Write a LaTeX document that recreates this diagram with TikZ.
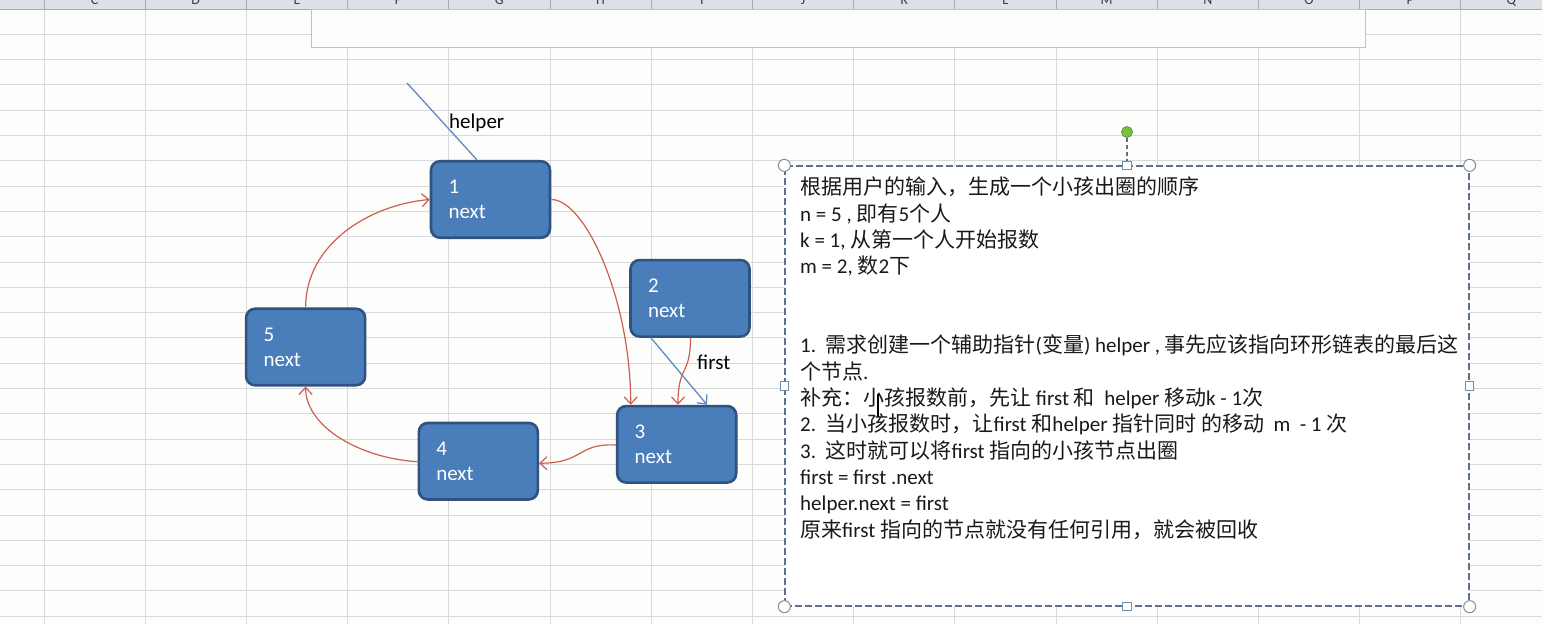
\documentclass[tikz,border=0pt]{standalone}
\usepackage{fontspec}
\setmainfont{Carlito}
\newfontfamily\cjk{Noto Sans CJK SC}
\usetikzlibrary{arrows.meta}

\definecolor{paper}{RGB}{253,253,251}
\definecolor{gridc}{RGB}{214,218,222}
\definecolor{headc}{RGB}{221,225,230}
\definecolor{headsep}{RGB}{165,172,180}
\definecolor{headtxt}{RGB}{60,60,60}
\definecolor{rectedge}{RGB}{190,194,198}
\definecolor{rectshadow}{RGB}{205,208,211}
\definecolor{nodefill}{RGB}{74,126,187}
\definecolor{nodeedge}{RGB}{47,82,128}
\definecolor{linkred}{RGB}{205,95,80}
\definecolor{ptrblue}{RGB}{95,138,196}
\definecolor{boxdash}{RGB}{95,112,140}
\definecolor{handlec}{RGB}{135,140,148}
\definecolor{handleb}{RGB}{110,140,180}
\definecolor{rotfill}{RGB}{122,190,66}
\definecolor{rotedge}{RGB}{95,150,50}
\definecolor{txtc}{RGB}{25,25,25}

\newcommand\zh[1]{{\cjk #1}}

\begin{document}
\begin{tikzpicture}[x=1pt,y=-1pt,
  gridline/.style={draw=gridc, line width=1pt},
  listnode/.style={rectangle, rounded corners=9pt, fill=nodefill, draw=nodeedge,
    line width=2.6pt, minimum width=119pt, minimum height=76.5pt, inner sep=0pt,
    text=white, align=left, text width=84pt, font=\fontsize{21}{25}\selectfont},
  link/.style={draw=linkred, line width=1.2pt, -{Straight Barb[length=7pt,width=13pt]}},
  ptr/.style={draw=ptrblue, line width=1.3pt},
  lbl/.style={inner sep=0pt, anchor=base west, font=\fontsize{21}{25}\selectfont, text=black},
  txt/.style={inner sep=0pt, anchor=base west, font=\fontsize{21}{26}\selectfont, text=txtc},
  hcirc/.style={circle, draw=handlec, fill=white, line width=1pt, minimum size=12pt, inner sep=0pt},
  hsq/.style={rectangle, draw=handleb, fill=white, line width=1pt, minimum size=8.5pt, inner sep=0pt},
]
\useasboundingbox (0,0) rectangle (1542,624);
\clip (0,0) rectangle (1542,624);
\fill[paper] (0,0) rectangle (1542,624);

% worksheet grid
\foreach \i in {0,...,14}
  \draw[gridline] ({44+101.2*\i},9) -- ({44+101.2*\i},624);
\foreach \j in {1,...,24}
  \draw[gridline] (0,{9+25.3*\j}) -- (1542,{9+25.3*\j});

% column header strip
\fill[headc] (0,0) rectangle (1542,9);
\draw[headsep, line width=1pt] (0,9) -- (1542,9);
\foreach \i in {0,...,14}
  \draw[headsep, line width=1pt] ({44+101.2*\i},0) -- ({44+101.2*\i},9);
\foreach \l [count=\k from 0] in {C,D,E,F,G,H,I,J,K,L,M,N,O,P,Q}
  \node[inner sep=0pt, anchor=base, text=headtxt, font=\fontsize{14}{14}\selectfont]
    (col\l) at ({94.6+101.2*\k},4.5) {\l};

% empty banner box at the top
\draw[rectshadow, line width=1.2pt] (312.5,47.8) -- (1365.8,47.8) -- (1365.8,10);
\node[rectangle, draw=rectedge, fill=paper, line width=1.2pt, anchor=north west,
  minimum width=1053.5pt, minimum height=37.5pt, inner sep=0pt] (banner) at (311,9) {};

% circular list nodes
\node[listnode] (n1) at (490.5,199.5) {1\\next};
\node[listnode] (n2) at (690,298.3) {2\\next};
\node[listnode] (n3) at (676.7,444.3) {3\\next};
\node[listnode] (n4) at (478.3,461.2) {4\\next};
\node[listnode] (n5) at (305.6,347) {5\\next};

% next links
\draw[link] (n5.north) .. controls +(0,-63) and +(-61,5.5) .. (n1.west);
\draw[link] (n1.east) .. controls +(34,0) and +(0,-105) .. ([xshift=-46pt]n3.north);
\draw[link] ([xshift=0.5pt]n2.south) .. controls +(0,38) and +(0,-40) .. ([xshift=1.3pt]n3.north);
\draw[link] ([yshift=-0.7pt]n3.west) .. controls +(-39,-2) and +(45,0) .. ([yshift=-2pt]n4.east);
\draw[link] ([yshift=-0.5pt]n4.west) .. controls +(-58,-3.5) and +(0,40) .. (n5.south);

% pointers
\coordinate (hp) at (407,83);
\draw[ptr] (hp) -- ([xshift=-13.5pt]n1.north);
\draw[ptr, -{Straight Barb[length=7pt,width=13pt]}] ([xshift=-39pt]n2.south) -- ([xshift=30.3pt]n3.north);
\node[lbl] (lhelper) at (449,128.3) {helper};
\node[lbl] (lfirst) at (697,369) {first};

% text box with selection handles
\node[rectangle, draw=boxdash, fill=white, line width=1.3pt, dash pattern=on 7pt off 3pt,
  minimum width=684pt, minimum height=440pt, inner sep=0pt] (tb) at (1127,386) {};
\node[hcirc] (hc1) at (tb.north west) {};
\node[hcirc] (hc2) at (tb.north east) {};
\node[hcirc] (hc3) at (tb.south west) {};
\node[hcirc] (hc4) at (tb.south east) {};
\node[hsq] (hs1) at (tb.north) {};
\node[hsq] (hs2) at (tb.south) {};
\node[hsq] (hs3) at (tb.west) {};
\node[hsq] (hs4) at (tb.east) {};
\node[circle, fill=rotfill, draw=rotedge, line width=0.8pt, minimum size=11pt, inner sep=0pt] (rot) at (1127,132) {};
\draw[boxdash, line width=1.2pt, dash pattern=on 4pt off 3pt] (rot.south) -- (hs1.north);

% text box contents
\node[txt] (t1)  at (800,194.5) {\zh{根据用户的输入，生成一个小孩出圈的顺序}};
\node[txt] (t2)  at (800,221.0) {n = 5 , \zh{即有}5\zh{个人}};
\node[txt] (t3)  at (800,247.3) {k = 1, \zh{从第一个人开始报数}};
\node[txt] (t4)  at (800,273.6) {m = 2, \zh{数}2\zh{下}};
\node[txt] (t5)  at (800,352.6) {1.\ \ \zh{需求创建一个辅助指针}(\zh{变量}) helper , \zh{事先应该指向环形链表的最后这}};
\node[txt] (t6)  at (800,379.0) {\zh{个节点}.};
\node[txt] (t7)  at (800,405.3) {\zh{补充：小孩报数前，先让} first \zh{和}\ \ helper \zh{移动}k - 1\zh{次}};
\node[txt] (t8)  at (800,431.7) {2.\ \ \zh{当小孩报数时，让}first \zh{和}helper \zh{指针同时 的移动}\ \ m\ \ - 1 \zh{次}};
\node[txt] (t9)  at (800,458.0) {3.\ \ \zh{这时就可以将}first \zh{指向的小孩节点出圈}};
\node[txt] (t10) at (800,484.4) {first = first .next};
\node[txt] (t11) at (800,510.7) {helper.next = first};
\node[txt] (t12) at (800,537.0) {\zh{原来}first \zh{指向的节点就没有任何引用，就会被回收}};

% text cursor
\draw[black, line width=1.3pt] (878,394) -- (878,417);
\end{tikzpicture}
\end{document}
